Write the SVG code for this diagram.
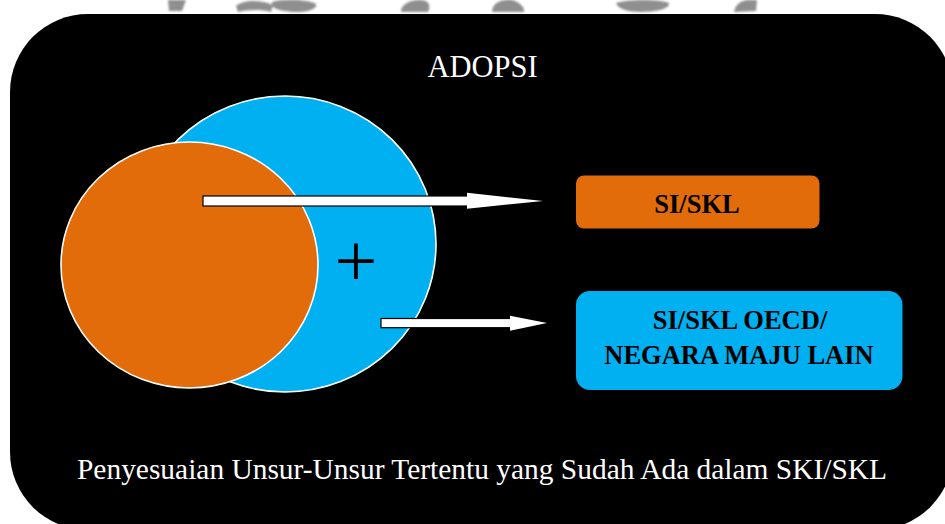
<svg xmlns="http://www.w3.org/2000/svg" width="945" height="524" viewBox="0 0 945 524">
  <style>
    text { font-family: 'Liberation Serif', 'Tinos', 'DejaVu Serif', serif; }
    .title { fill: #ffffff; font-size: 30.5px; }
    .caption { fill: #ffffff; font-size: 29px; }
    .label { fill: #000000; font-size: 26.5px; font-weight: bold; }
    .ring { stroke: #ffffff; stroke-width: 1.6; }
    .orange { fill: #E26B0A; }
    .blue { fill: #00B0F0; }
    .shaft { fill: #ffffff; stroke: #000000; stroke-width: 1.2; }
    .head { fill: #ffffff; }
    .mark { fill: #8f8f8f; }
  </style>
  <defs>
    <filter id="soft" x="-20%" y="-50%" width="140%" height="200%">
      <feGaussianBlur stdDeviation="0.8"/>
    </filter>
  </defs>

  <rect width="945" height="524" fill="#ffffff"/>

  <!-- faint stamp strokes along the top edge -->
  <g id="stamp" filter="url(#soft)">
    <path class="mark" d="M168,0 L186,0 L182,11 L169,11 Z"/>
    <path class="mark" d="M236,6 C244,-1 262,0 273,5 L271,12 C260,9 246,10 238,12 Z"/>
    <path class="mark" d="M272,2 C285,-2 310,0 316,4 C318,9 306,13 292,12 C282,11 274,9 272,6 Z"/>
    <path class="mark" d="M401,12 C400,5 410,-1 422,0 C431,1 430,8 428,12 Z"/>
    <path class="mark" d="M492,12 C492,4 500,-1 512,0 C520,2 525,8 524,12 Z"/>
    <path class="mark" d="M616,3 C628,-1 660,-1 669,3 C670,9 656,12 640,12 C628,12 618,9 616,3 Z"/>
    <path class="mark" d="M734,12 C735,5 741,0 748,0 L757,0 L756,11 Z"/>
  </g>

  <!-- black panel -->
  <rect x="10" y="14" width="943" height="516" rx="78" ry="78" fill="#000000"/>

  <g id="title">
    <text class="title" font-family="'Liberation Serif', serif" x="482.5" y="77" text-anchor="middle">ADOPSI</text>
  </g>

  <g id="circle-blue">
    <ellipse class="blue ring" cx="285" cy="244" rx="151" ry="148"/>
  </g>
  <g id="circle-orange">
    <ellipse class="orange ring" cx="189.5" cy="265" rx="128.5" ry="123"/>
  </g>
  <g id="plus">
    <text font-family="'Liberation Serif', serif" x="356" y="285.5" text-anchor="middle" font-size="76" fill="#000000">+</text>
  </g>

  <g id="connectors">
    <rect class="shaft" x="203" y="196" width="266" height="10"/>
    <polygon class="head" points="467,192.7 543,201 467,208.7"/>
    <rect class="shaft" x="381" y="318.5" width="131" height="9.2"/>
    <polygon class="head" points="510,315.7 547,323 510,330.7"/>
  </g>

  <g id="box-si-skl">
    <rect class="orange" x="576" y="175.5" width="243.5" height="53" rx="8"/>
    <text class="label" font-family="'Liberation Serif', serif" x="697" y="212.5" text-anchor="middle">SI/SKL</text>
  </g>

  <g id="box-oecd">
    <rect class="blue" x="576" y="291" width="326.5" height="99" rx="14"/>
    <text class="label" font-family="'Liberation Serif', serif" x="740" y="328.5" text-anchor="middle">SI/SKL OECD/</text>
    <text class="label" font-family="'Liberation Serif', serif" x="739" y="364" text-anchor="middle">NEGARA MAJU LAIN</text>
  </g>

  <g id="caption">
    <text class="caption" font-family="'Liberation Serif', serif" x="77" y="478.5" textLength="810" lengthAdjust="spacingAndGlyphs">Penyesuaian Unsur-Unsur Tertentu yang Sudah Ada dalam SKI/SKL</text>
  </g>
</svg>
